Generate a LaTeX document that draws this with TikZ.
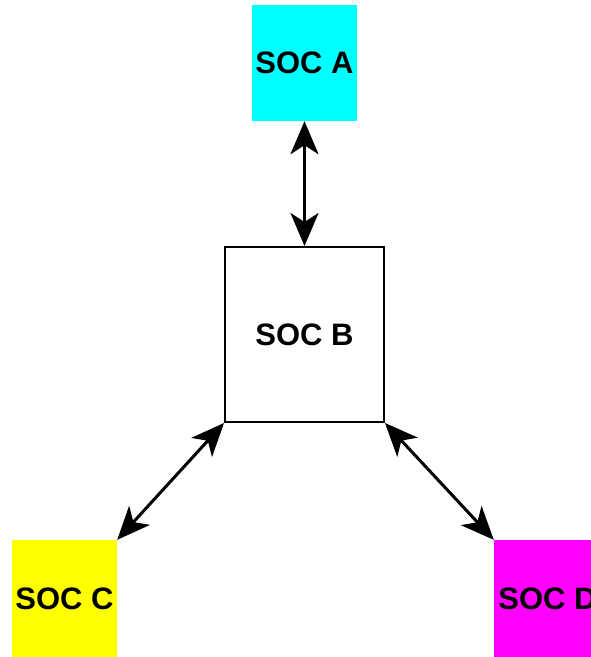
\documentclass[tikz,border=0pt]{standalone}
\usepackage{fontspec}
\setmainfont{Liberation Sans}
\usetikzlibrary{arrows.meta}
\definecolor{socA}{RGB}{0,255,255}
\definecolor{socC}{RGB}{255,255,0}
\definecolor{socD}{RGB}{255,0,255}
\begin{document}
\begin{tikzpicture}[x=1pt,y=-1pt,
  soc/.style={draw=none, minimum width=105pt, minimum height=117pt, inner sep=0pt,
    font=\fontsize{31}{37}\selectfont\bfseries},
  link/.style={line width=3pt, {Stealth[length=33pt,width=28pt,inset=9pt]}-{Stealth[length=33pt,width=28pt,inset=9pt]}}]
\clip (0,0) rectangle (591,657);
\fill[white] (0,0) rectangle (591,657);
\node[soc, fill=socA, minimum height=116pt] (a) at (304.5,63) {SOC A};
\node[soc, draw=black, line width=2pt, fill=white, minimum width=159pt, minimum height=175pt] (b) at (304.5,334.5) {SOC B};
\node[soc, fill=socC] (c) at (64.5,598.5) {SOC C};
\node[soc, fill=socD, minimum width=107pt] (d) at (547.5,598.5) {SOC D};
\draw[link] (a.south) -- (b.north);
\draw[link] (b.south west) -- (c.north east);
\draw[link] (b.south east) -- (d.north west);
\end{tikzpicture}
\end{document}
